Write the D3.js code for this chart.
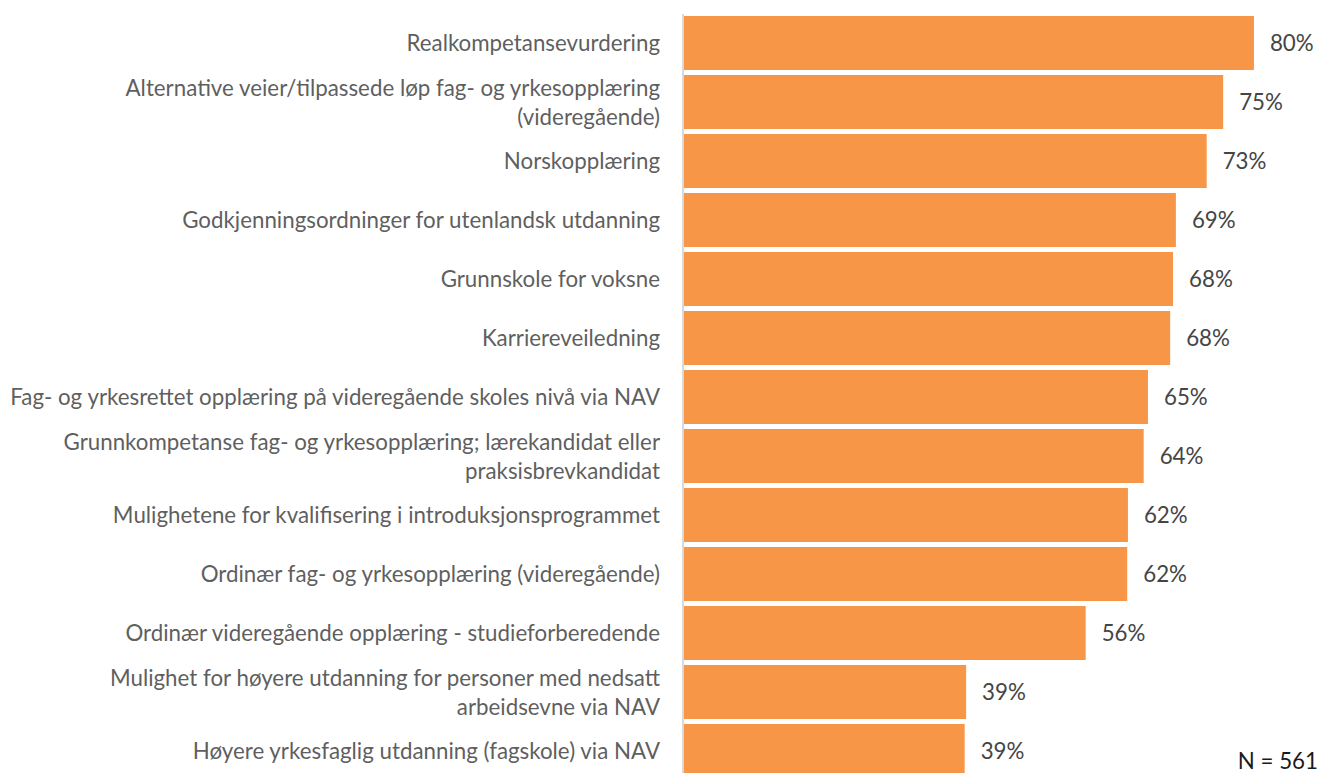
<!DOCTYPE html>
<html>
<head>
<meta charset="utf-8">
<script src="https://cdn.jsdelivr.net/npm/d3@7"></script>
<style>
  html, body { margin: 0; padding: 0; background: #fff; }
  svg { display: block; }
</style>
</head>
<body>
<svg id="chart" width="1320" height="773"></svg>
<script>
const categories = [
  "Realkompetansevurdering",
  "Alternative veier/tilpassede løp fag- og yrkesopplæring\n(videregående)",
  "Norskopplæring",
  "Godkjenningsordninger for utenlandsk utdanning",
  "Grunnskole for voksne",
  "Karriereveiledning",
  "Fag- og yrkesrettet opplæring på videregående skoles nivå via NAV",
  "Grunnkompetanse fag- og yrkesopplæring; lærekandidat eller\npraksisbrevkandidat",
  "Mulighetene for kvalifisering i introduksjonsprogrammet",
  "Ordinær fag- og yrkesopplæring (videregående)",
  "Ordinær videregående opplæring - studieforberedende",
  "Mulighet for høyere utdanning for personer med nedsatt\narbeidsevne via NAV",
  "Høyere yrkesfaglig utdanning (fagskole) via NAV"
];
const values = [79.6, 75.3, 73.0, 68.7, 68.3, 67.9, 64.8, 64.2, 62.0, 61.9, 56.1, 39.4, 39.2];
const noteText = "N = 561";

const svg = d3.select("#chart");
const fontFamily = "Lato, 'Open Sans', sans-serif";

// measure font size so the longest label matches the reference width
const probe = svg.append("text").attr("font-family", fontFamily).attr("font-size", 100)
  .text("Fag- og yrkesrettet opplæring på videregående skoles nivå via NAV");
const probeW = probe.node().getComputedTextLength();
probe.remove();
const fs = Math.min(26, 100 * 650 / probeW);

const x0 = 684;
const x = d3.scaleLinear().domain([0, 100]).range([x0, x0 + 716]);
const y = d3.scaleBand().domain(categories).range([13.5, 780.5])
  .paddingInner(5 / 59).paddingOuter(2.5 / 59);

// bars
svg.append("g").selectAll("rect").data(categories).join("rect")
  .attr("x", x(0))
  .attr("y", d => y(d))
  .attr("width", (d, i) => x(values[i]) - x(0))
  .attr("height", y.bandwidth())
  .attr("fill", "#F79646");

// axis line
const axis = svg.append("g").attr("transform", `translate(${x0 - 1.5},0)`)
  .call(d3.axisLeft(y).tickSize(0).tickFormat(""));
axis.select(".domain").attr("stroke", "#D9D9D9").attr("stroke-width", 2);

// category labels
const lineH = 29;
const lab = svg.append("g").selectAll("text").data(categories).join("text")
  .attr("text-anchor", "end")
  .attr("font-family", fontFamily)
  .attr("font-size", fs)
  .attr("fill", "#5f5f5f")
  .attr("dominant-baseline", "central");
lab.each(function(d) {
  const lines = d.split("\n");
  const cy = y(d) + y.bandwidth() / 2 - 1;
  const start = cy - (lines.length - 1) * lineH / 2;
  d3.select(this).selectAll("tspan").data(lines).join("tspan")
    .attr("x", 660)
    .attr("y", (l, j) => start + j * lineH)
    .text(l => l);
});

// value labels
const fmt = d3.format(".0f");
svg.append("g").selectAll("text").data(categories).join("text")
  .attr("x", (d, i) => x(values[i]) + 16)
  .attr("y", d => y(d) + y.bandwidth() / 2 - 1)
  .attr("dominant-baseline", "central")
  .attr("font-family", fontFamily)
  .attr("font-size", fs)
  .attr("fill", "#454545")
  .text((d, i) => fmt(values[i]) + "%");

// note
svg.append("text")
  .attr("x", 1318).attr("y", 760)
  .attr("text-anchor", "end")
  .attr("dominant-baseline", "central")
  .attr("font-family", fontFamily)
  .attr("font-size", fs)
  .attr("fill", "#1a1a1a")
  .text(noteText);
</script>
</body>
</html>
